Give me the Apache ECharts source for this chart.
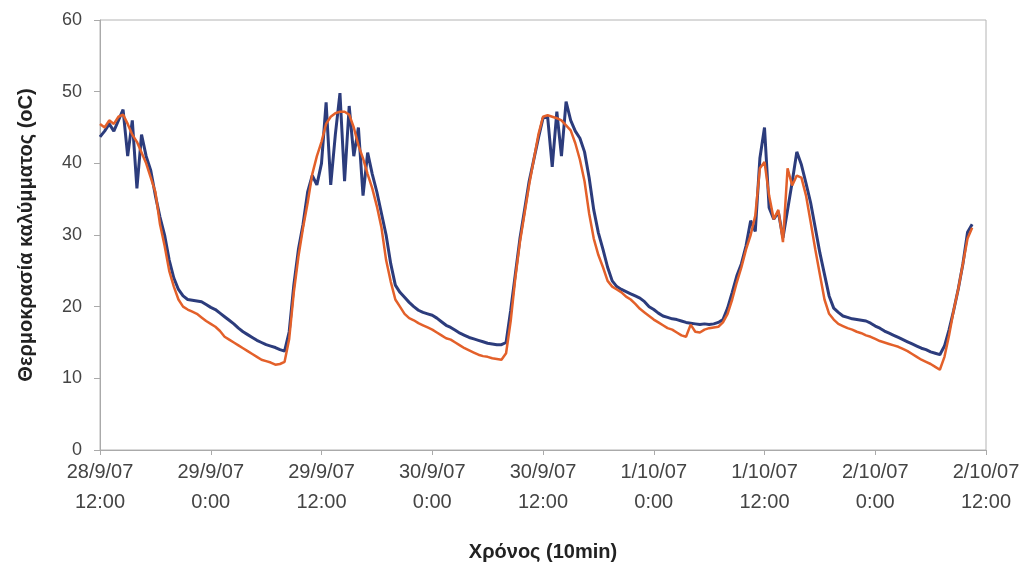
<!DOCTYPE html>
<html>
<head>
<meta charset="utf-8">
<script src="https://cdn.jsdelivr.net/npm/echarts@6/dist/echarts.min.js"></script>
<style>
  html, body { margin: 0; padding: 0; background: #fff; }
  #chart { width: 1027px; height: 568px; }
</style>
</head>
<body>
<div id="chart"></div>
<script>
// tick labels every 12 h, from 28/9/07 12:00
var timeLabels = ['28/9/07\n12:00', '29/9/07\n0:00', '29/9/07\n12:00', '30/9/07\n0:00', '30/9/07\n12:00',
    '1/10/07\n0:00', '1/10/07\n12:00', '2/10/07\n0:00', '2/10/07\n12:00'];

// readings every 30 min (hours after 28/9/07 12:00)
var stepHours = 0.5;

var blueTemp = [
    43.7, 44.5, 45.5, 44.5, 46, 47.5, 41, 46, 36.5, 44, 41, 39, 35.5, 32.5, 30, 26.5, 24, 22.4, 21.5, 21, 20.9, 20.8, 20.7, 20.3,
    19.9, 19.6, 19.1, 18.6, 18.1, 17.6, 17, 16.5, 16.1, 15.7, 15.3, 15, 14.7, 14.5, 14.3, 14, 13.8, 16.5, 23, 28, 31.5, 36, 38.3, 37,
    40, 48.5, 37, 44, 49.8, 37.5, 48, 41, 45, 35.5, 41.5, 38.5, 36, 33, 30, 26, 23, 22, 21.3, 20.6, 20, 19.5, 19.2, 19,
    18.8, 18.4, 17.9, 17.4, 17.1, 16.7, 16.3, 16, 15.7, 15.5, 15.3, 15.1, 14.9, 14.8, 14.7, 14.7, 15, 19.5, 24.5, 29.5, 33.5, 37.5, 40.5, 43.5,
    46.3, 46.5, 39.5, 47.2, 41, 48.6, 46, 44.5, 43.5, 41.6, 38, 33.5, 30.3, 28, 25.5, 23.6, 22.8, 22.4, 22.1, 21.8, 21.5, 21.2, 20.7, 20,
    19.6, 19.1, 18.7, 18.5, 18.3, 18.2, 18, 17.8, 17.7, 17.6, 17.5, 17.6, 17.5, 17.6, 17.8, 18.2, 19.8, 22, 24.3, 26, 28.5, 32, 30.5, 40.7,
    45, 33.8, 32.2, 33.2, 29.6, 33.5, 37.4, 41.6, 39.8, 37.2, 34.5, 31, 27.5, 24.5, 21.5, 19.8, 19.2, 18.7, 18.5, 18.3, 18.2, 18.1, 18, 17.7,
    17.3, 17, 16.6, 16.3, 16, 15.7, 15.4, 15.1, 14.8, 14.5, 14.2, 14, 13.7, 13.5, 13.3, 14.5, 16.8, 19.5, 22.5, 26, 30.4, 31.5
];

var orangeTemp = [
    45.5, 45, 46, 45.5, 46.5, 46.8, 45.5, 44, 43, 41.5, 40, 38, 36, 31.5, 28.5, 25, 22.8, 21, 20, 19.6, 19.3, 19, 18.5, 18,
    17.6, 17.2, 16.6, 15.8, 15.4, 15, 14.6, 14.2, 13.8, 13.4, 13, 12.6, 12.4, 12.2, 11.9, 12, 12.3, 15.5, 22, 27, 31, 34.5, 38.5, 41,
    43, 45.5, 46.5, 47, 47.2, 47.2, 46.8, 45, 42.5, 40.7, 38.5, 36.5, 34, 31, 26.5, 23.5, 21, 20, 19, 18.4, 18.1, 17.7, 17.4, 17.1,
    16.8, 16.4, 16, 15.6, 15.4, 15, 14.6, 14.2, 13.9, 13.6, 13.3, 13.1, 13, 12.8, 12.7, 12.6, 13.5, 18, 24, 29, 33, 37, 40.5, 44,
    46.5, 46.7, 46.5, 46.3, 46, 45.3, 44.6, 42.8, 40.5, 37.5, 33, 29.5, 27.2, 25.5, 23.6, 22.8, 22.4, 22, 21.4, 21, 20.4, 19.7, 19.2, 18.7,
    18.2, 17.8, 17.4, 17, 16.8, 16.4, 16, 15.8, 17.5, 16.5, 16.4, 16.8, 17, 17.1, 17.2, 17.8, 19, 21, 23.4, 25.5, 28, 30, 32.7, 39.3,
    40.2, 35.5, 32.2, 33.5, 29, 39.3, 36.9, 38.3, 38, 35.5, 31.8, 28, 24.5, 21, 19, 18.2, 17.6, 17.3, 17, 16.8, 16.5, 16.3, 16, 15.8,
    15.5, 15.2, 15, 14.8, 14.6, 14.4, 14.1, 13.8, 13.4, 13, 12.6, 12.3, 12, 11.6, 11.2, 13, 16, 19.5, 22.5, 26, 29.5, 31
];

function toPoints(values) {
    return values.map(function (v, i) { return [i * stepHours, v]; });
}

var chart = echarts.init(document.getElementById('chart'));

var labelFont = 'Liberation Sans, Arial, sans-serif';

var option = {
    animation: false,
    backgroundColor: '#ffffff',
    grid: {
        left: 100,
        right: 41,
        top: 20,
        bottom: 118,
        show: true,
        borderColor: '#b4b4b4',
        borderWidth: 1
    },
    xAxis: {
        type: 'value',
        min: 0,
        max: 96,
        interval: 12,
        name: 'Χρόνος (10min)',
        nameLocation: 'middle',
        nameGap: 92,
        nameTextStyle: { fontFamily: labelFont, fontSize: 20, fontWeight: 'bold', color: '#222' },
        axisLine: { lineStyle: { color: '#aaaaaa' } },
        axisTick: { show: true, length: 5, lineStyle: { color: '#aaaaaa' } },
        splitLine: { show: false },
        axisLabel: {
            fontFamily: labelFont,
            fontSize: 20,
            color: '#444444',
            lineHeight: 30,
            margin: 7,
            formatter: function (val) {
                return timeLabels[Math.round(val / 12)] || '';
            }
        }
    },
    yAxis: {
        type: 'value',
        min: 0,
        max: 60,
        interval: 10,
        name: 'Θερμοκρασία καλύμματος (oC)',
        nameLocation: 'middle',
        nameGap: 64,
        nameTextStyle: { fontFamily: labelFont, fontSize: 20, fontWeight: 'bold', color: '#222' },
        axisLine: { show: true, lineStyle: { color: '#aaaaaa' } },
        axisTick: { show: true, length: 6, lineStyle: { color: '#aaaaaa' } },
        splitLine: { show: false },
        axisLabel: {
            fontFamily: labelFont,
            fontSize: 18,
            color: '#444444',
            margin: 18
        }
    },
    series: [
        {
            name: 'blue',
            type: 'line',
            data: toPoints(blueTemp),
            showSymbol: false,
            lineStyle: { color: '#2c3c7c', width: 3 },
            itemStyle: { color: '#2c3c7c' },
            z: 2
        },
        {
            name: 'orange',
            type: 'line',
            data: toPoints(orangeTemp),
            showSymbol: false,
            lineStyle: { color: '#e3602a', width: 2.5 },
            itemStyle: { color: '#e3602a' },
            z: 3
        }
    ]
};

chart.setOption(option);
</script>
</body>
</html>
